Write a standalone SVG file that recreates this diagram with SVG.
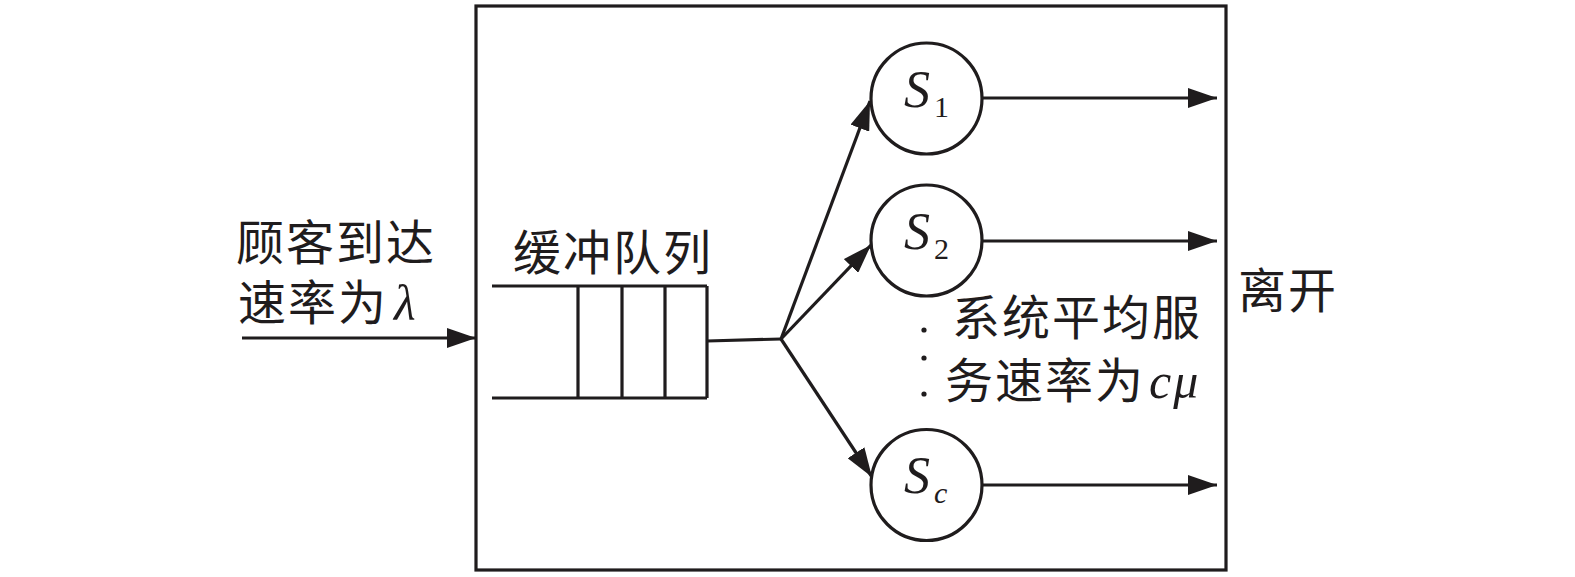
<svg xmlns="http://www.w3.org/2000/svg" width="1575" height="577" viewBox="0 0 1575 577">
<style>
.ln{stroke:#1f1c1d;stroke-width:3.2;fill:none}
.arr{stroke:#1f1c1d;stroke-width:3.2;fill:none;marker-end:url(#ah)}
.cn{font-family:"Noto Sans CJK SC","Noto Sans CJK JP",sans-serif;font-size:48px;fill:#1f1c1d;letter-spacing:2px}
.it{font-family:"Liberation Serif",serif;font-style:italic;fill:#1f1c1d}
.rm{font-family:"Liberation Serif",serif;fill:#1f1c1d}
.sv{stroke:#1f1c1d;stroke-width:3.2;fill:#fff}
</style>
<defs>
<marker id="ah" markerUnits="userSpaceOnUse" markerWidth="30" markerHeight="20" refX="29" refY="10" orient="auto">
<path d="M0,0 L29,10 L0,20 z" fill="#1f1c1d"/>
</marker>
</defs>
<rect width="1575" height="577" fill="#fff"/>
<g id="system">
<rect x="476" y="6" width="750" height="564" class="ln"/>
</g>
<g id="queue">
<path class="ln" d="M492,286 H707 M492,398 H707 M578,286 V398 M622,286 V398 M665,286 V398 M707,286 V398"/>
</g>
<g id="connectors">
<line class="arr" x1="242" y1="338" x2="476" y2="338"/>
<line class="ln" x1="707" y1="341" x2="781" y2="339"/>
<line class="arr" x1="781" y1="339" x2="870" y2="101"/>
<line class="arr" x1="781" y1="339" x2="871" y2="245"/>
<line class="arr" x1="781" y1="339" x2="872" y2="477"/>
<line class="arr" x1="982" y1="98" x2="1217" y2="98"/>
<line class="arr" x1="982" y1="241" x2="1217" y2="241"/>
<line class="arr" x1="982" y1="485" x2="1217" y2="485"/>
</g>
<g id="s1">
<circle cx="926.5" cy="98.5" r="55.5" class="sv"/>
<text x="904" y="107" class="it" font-size="52">S</text>
<text x="934" y="117" class="rm" font-size="30">1</text>
</g>
<g id="s2">
<circle cx="926.5" cy="240.5" r="55.5" class="sv"/>
<text x="904" y="249" class="it" font-size="52">S</text>
<text x="934" y="259" class="rm" font-size="30">2</text>
</g>
<g id="sc">
<circle cx="926.5" cy="485" r="55.5" class="sv"/>
<text x="904" y="493" class="it" font-size="52">S</text>
<text x="934" y="503" class="it" font-size="30">c</text>
</g>
<g id="dots" fill="#1f1c1d">
<circle cx="924" cy="330" r="2.6"/>
<circle cx="924" cy="358" r="2.6"/>
<circle cx="924" cy="394" r="2.6"/>
</g>
<g id="labels">
<text x="236" y="260" class="cn">顾客到达</text>
<text x="238" y="320" class="cn">速率为<tspan class="it" font-size="50" dx="6">λ</tspan></text>
<text x="513" y="270" class="cn">缓冲队列</text>
<text x="952" y="335" class="cn">系统平均服</text>
<text x="945" y="398" class="cn">务速率为<tspan class="it" font-size="50" dx="4">cμ</tspan></text>
<text x="1238" y="308" class="cn">离开</text>
</g>
</svg>
